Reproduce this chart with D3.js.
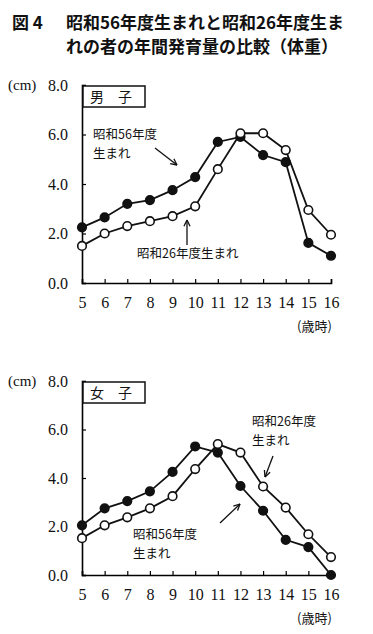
<!DOCTYPE html>
<html>
<head>
<meta charset="utf-8">
<script src="https://cdn.jsdelivr.net/npm/d3@7"></script>
<style>
  body { margin: 0; background: #fff; }
  svg text { fill: #111; }
  .tick text { font-family: "Liberation Serif", "DejaVu Serif", serif; font-size: 16px; }
  .note { font-family: "Noto Sans CJK JP", sans-serif; font-size: 12.5px; }
  .title { font-family: "Noto Sans CJK JP", sans-serif; font-size: 17px; font-weight: bold; }
</style>
</head>
<body>
<svg id="chart" width="373" height="634"></svg>
<script>
// ages (x axis) and y ticks
const ages = [5, 6, 7, 8, 9, 10, 11, 12, 13, 14, 15, 16];
const yTicks = [0, 2, 4, 6, 8];

// yearly weight gain
const boysS56 = [2.25, 2.65, 3.2, 3.35, 3.75, 4.28, 5.7, 5.9, 5.17, 4.88, 1.62, 1.1];
const boysS26 = [1.5, 2.0, 2.3, 2.5, 2.7, 3.1, 4.6, 6.05, 6.05, 5.37, 2.95, 1.95];
const girlsS56 = [2.05, 2.75, 3.05, 3.45, 4.25, 5.3, 5.05, 3.67, 2.65, 1.45, 1.15, 0.0];
const girlsS26 = [1.52, 2.05, 2.38, 2.75, 3.25, 4.37, 5.4, 5.05, 3.65, 2.78, 1.68, 0.74];

const svg = d3.select("#chart");

// title
svg.append("text").attr("class", "title").attr("x", 12).attr("y", 29).text("図 4");
svg.append("text").attr("class", "title").attr("x", 66).attr("y", 29)
  .text("昭和56年度生まれと昭和26年度生ま");
svg.append("text").attr("class", "title").attr("x", 66).attr("y", 53)
  .text("れの者の年間発育量の比較（体重）");

const x = d3.scaleLinear().domain([5, 16]).range([82, 331]);

const drawPanel = (top, bottom, label, s56, s26, notes) => {
  const y = d3.scaleLinear().domain([0, 8]).range([bottom, top]);
  const g = svg.append("g");

  g.append("g")
    .attr("transform", `translate(0,${bottom})`)
    .call(d3.axisBottom(x).tickValues(ages).tickSize(-4).tickPadding(14).tickFormat(d3.format("d")))
    .call((a) => a.select(".domain").attr("stroke-width", 1.6))
    .call((a) => a.selectAll(".tick line").attr("stroke-width", 1.2))
    .call((a) => a.selectAll(".tick text").attr("dy", "0.71em"));

  g.append("g")
    .attr("transform", `translate(82,0)`)
    .call(d3.axisLeft(y).tickValues(yTicks).tickSize(-4).tickPadding(14).tickFormat(d3.format(".1f")))
    .call((a) => a.select(".domain").attr("stroke-width", 1.6))
    .call((a) => a.selectAll(".tick line").attr("stroke-width", 1.2));

  g.append("text").attr("x", 8).attr("y", y(8) + 5)
    .style("font-family", "Liberation Serif, serif").style("font-size", "15px").text("(cm)");
  g.append("text").attr("class", "note").attr("x", 297).attr("y", bottom + 48)
    .style("font-size", "13px").text("(歳時)");

  // panel label box
  g.append("rect").attr("x", 83).attr("y", y(8) + 1).attr("width", 62).attr("height", 21)
    .attr("fill", "#fff").attr("stroke", "#111").attr("stroke-width", 1.5);
  g.append("text").attr("class", "note").attr("x", 90).attr("y", y(8) + 17)
    .style("font-size", "14px").text(label);

  const line = d3.line().x((d, i) => x(ages[i])).y((d) => y(d));
  [s56, s26].forEach((vals) => {
    g.append("path").datum(vals).attr("d", line)
      .attr("fill", "none").attr("stroke", "#111").attr("stroke-width", 1.8);
  });
  [[s56, "#111"], [s26, "#fff"]].forEach(([vals, fill]) => {
    g.selectAll(null).data(vals).join("circle")
      .attr("cx", (d, i) => x(ages[i])).attr("cy", (d) => y(d)).attr("r", 4.3)
      .attr("fill", fill).attr("stroke", "#111").attr("stroke-width", 1.6);
  });

  // annotations with arrows
  notes.forEach((n) => {
    n.lines.forEach((t, i) => {
      g.append("text").attr("class", "note").attr("x", n.x).attr("y", n.y + i * 19).text(t);
    });
    g.append("line").attr("x1", n.a[0]).attr("y1", n.a[1]).attr("x2", n.a[2]).attr("y2", n.a[3])
      .attr("stroke", "#111").attr("stroke-width", 1.3);
    const ang = Math.atan2(n.a[3] - n.a[1], n.a[2] - n.a[0]);
    const h = 7;
    [0.45, -0.45].forEach((da) => {
      g.append("line").attr("x1", n.a[2]).attr("y1", n.a[3])
        .attr("x2", n.a[2] - h * Math.cos(ang + da)).attr("y2", n.a[3] - h * Math.sin(ang + da))
        .attr("stroke", "#111").attr("stroke-width", 1.3);
    });
  });
};

drawPanel(85, 283, "男　子", boysS56, boysS26, [
  { x: 93, y: 139, lines: ["昭和56年度", "生まれ"], a: [155, 148, 177, 165] },
  { x: 137, y: 258, lines: ["昭和26年度生まれ"], a: [187, 245, 187, 220] },
]);
drawPanel(381, 575, "女　子", girlsS56, girlsS26, [
  { x: 252, y: 426, lines: ["昭和26年度", "生まれ"], a: [273, 456, 265, 477] },
  { x: 133, y: 539, lines: ["昭和56年度", "生まれ"], a: [220, 523, 240, 504] },
]);
</script>
</body>
</html>
